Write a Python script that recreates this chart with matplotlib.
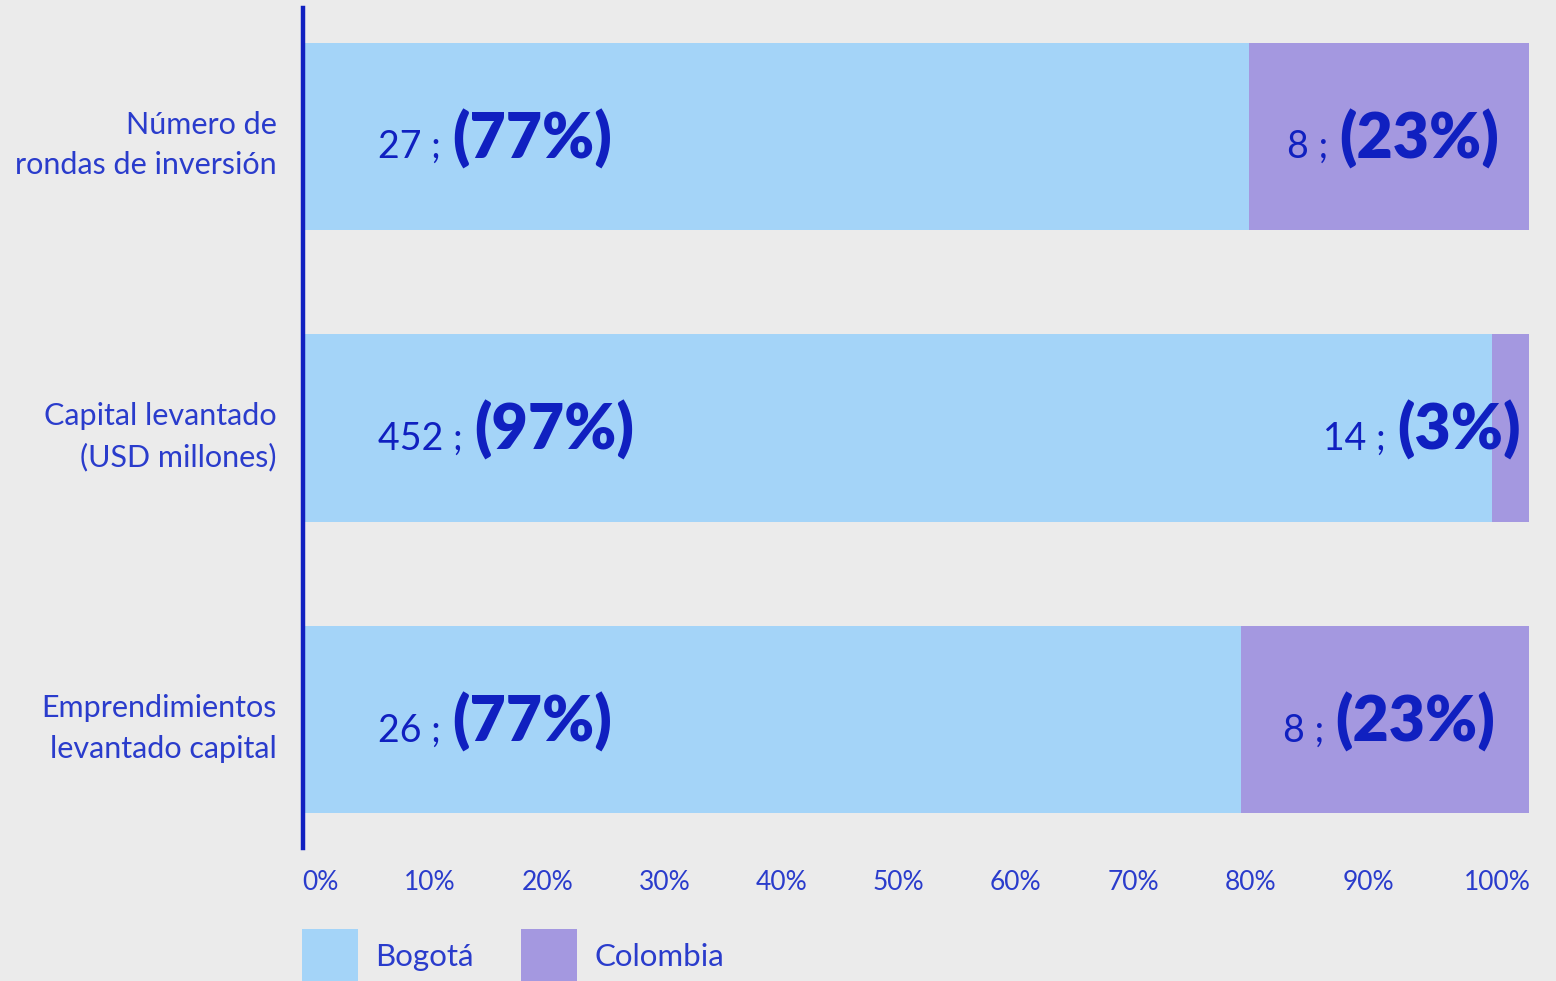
import matplotlib
matplotlib.use("Agg")
import matplotlib.pyplot as plt
import matplotlib.transforms as mtransforms
from matplotlib.patches import Patch
import numpy as np

# Data
categories = [
    "Número de\nrondas de inversión",
    "Capital levantado\n(USD millones)",
    "Emprendimientos\nlevantado capital",
]
bogota_vals = [27, 452, 26]
colombia_vals = [8, 14, 8]
bogota_pct = [77, 97, 77]
colombia_pct = [23, 3, 23]
tick_labels = ["0%", "10%", "20%", "30%", "40%", "50%", "60%", "70%", "80%", "90%", "100%"]

BG = "#EBEBEB"
C_BOG = "#A4D4F8"
C_COL = "#A498E0"
C_TXT = "#1020C0"
C_LIGHT = "#2a3ccc"
FONT = ["Lato", "DejaVu Sans"]

plt.rcParams["font.family"] = FONT

fig = plt.figure(figsize=(15.56, 9.81), dpi=100, facecolor=BG)
ax = fig.add_axes([303 / 1556, 1 - 848 / 981, 1226 / 1556, 840 / 981])
ax.set_facecolor(BG)

bog = np.array(bogota_vals, dtype=float)
col = np.array(colombia_vals, dtype=float)
share_bog = bog / (bog + col) * 100
share_col = col / (bog + col) * 100
ypos = np.arange(len(categories))

ax.barh(ypos, share_bog, height=0.643, color=C_BOG, label="Bogotá")
ax.barh(ypos, share_col, left=share_bog, height=0.643, color=C_COL, label="Colombia")

ax.set_xlim(0, 100)
ax.set_ylim(2.44, -0.44)

# Value labels: "n ;" in light, "(pct%)" in bold
for i in range(len(categories)):
    yb = i + 0.075
    t1 = ax.text(6.1, yb, f"{bogota_vals[i]} ;", ha="left", va="baseline",
                 fontsize=27, color=C_TXT)
    ax.annotate(f"({bogota_pct[i]}%)", xy=(1, yb), xycoords=(t1, "data"),
                xytext=(8, 0), textcoords="offset points", ha="left",
                va="baseline", fontsize=45, fontweight="heavy", color=C_TXT)
    if i == 1:
        xr = 99.3
    else:
        xr = share_bog[i] + share_col[i] / 2 + 9.0
    t2 = ax.text(xr, yb, f"({colombia_pct[i]}%)", ha="right", va="baseline",
                 fontsize=45, fontweight="heavy", color=C_TXT)
    ax.annotate(f"{colombia_vals[i]} ;", xy=(0, yb), xycoords=(t2, "data"),
                xytext=(-8, 0), textcoords="offset points", ha="right",
                va="baseline", fontsize=27, color=C_TXT)

# Axes styling
for s in ["top", "right", "bottom"]:
    ax.spines[s].set_visible(False)
ax.spines["left"].set_color(C_TXT)
ax.spines["left"].set_linewidth(3.2)

ax.set_yticks(ypos)
ax.set_yticklabels(categories, fontsize=22, color=C_LIGHT, linespacing=1.55)
ax.tick_params(axis="y", length=0, pad=19)
for lbl in ax.get_yticklabels():
    lbl.set_horizontalalignment("right")
    lbl.set_multialignment("right")

ax.set_xticks(np.arange(0, 101, 10))
ax.set_xticklabels(tick_labels, fontsize=19, color=C_LIGHT)
ax.tick_params(axis="x", length=0, pad=16)
# tick labels in the original sit a little off their ticks (pixels)
label_shift = [17, 4, -1, -6, -12, -18, -23, -28, -33, -38, -32]
for lbl, sh in zip(ax.get_xticklabels(), label_shift):
    lbl.set_transform(lbl.get_transform() +
                      mtransforms.ScaledTranslation(sh / 100, 0, fig.dpi_scale_trans))

# Legend
handles = [Patch(facecolor=C_BOG, label="Bogotá"),
           Patch(facecolor=C_COL, label="Colombia")]
leg = fig.legend(handles=handles, loc="upper left",
                 bbox_to_anchor=(302 / 1556, 1 - 929 / 981), ncol=2,
                 frameon=False, fontsize=22.5, handlelength=1.8, handleheight=2.35,
                 handletextpad=0.55, columnspacing=1.5, borderpad=0,
                 borderaxespad=0)
for t in leg.get_texts():
    t.set_color(C_LIGHT)

fig.savefig("out.png", dpi=100, facecolor=BG)
